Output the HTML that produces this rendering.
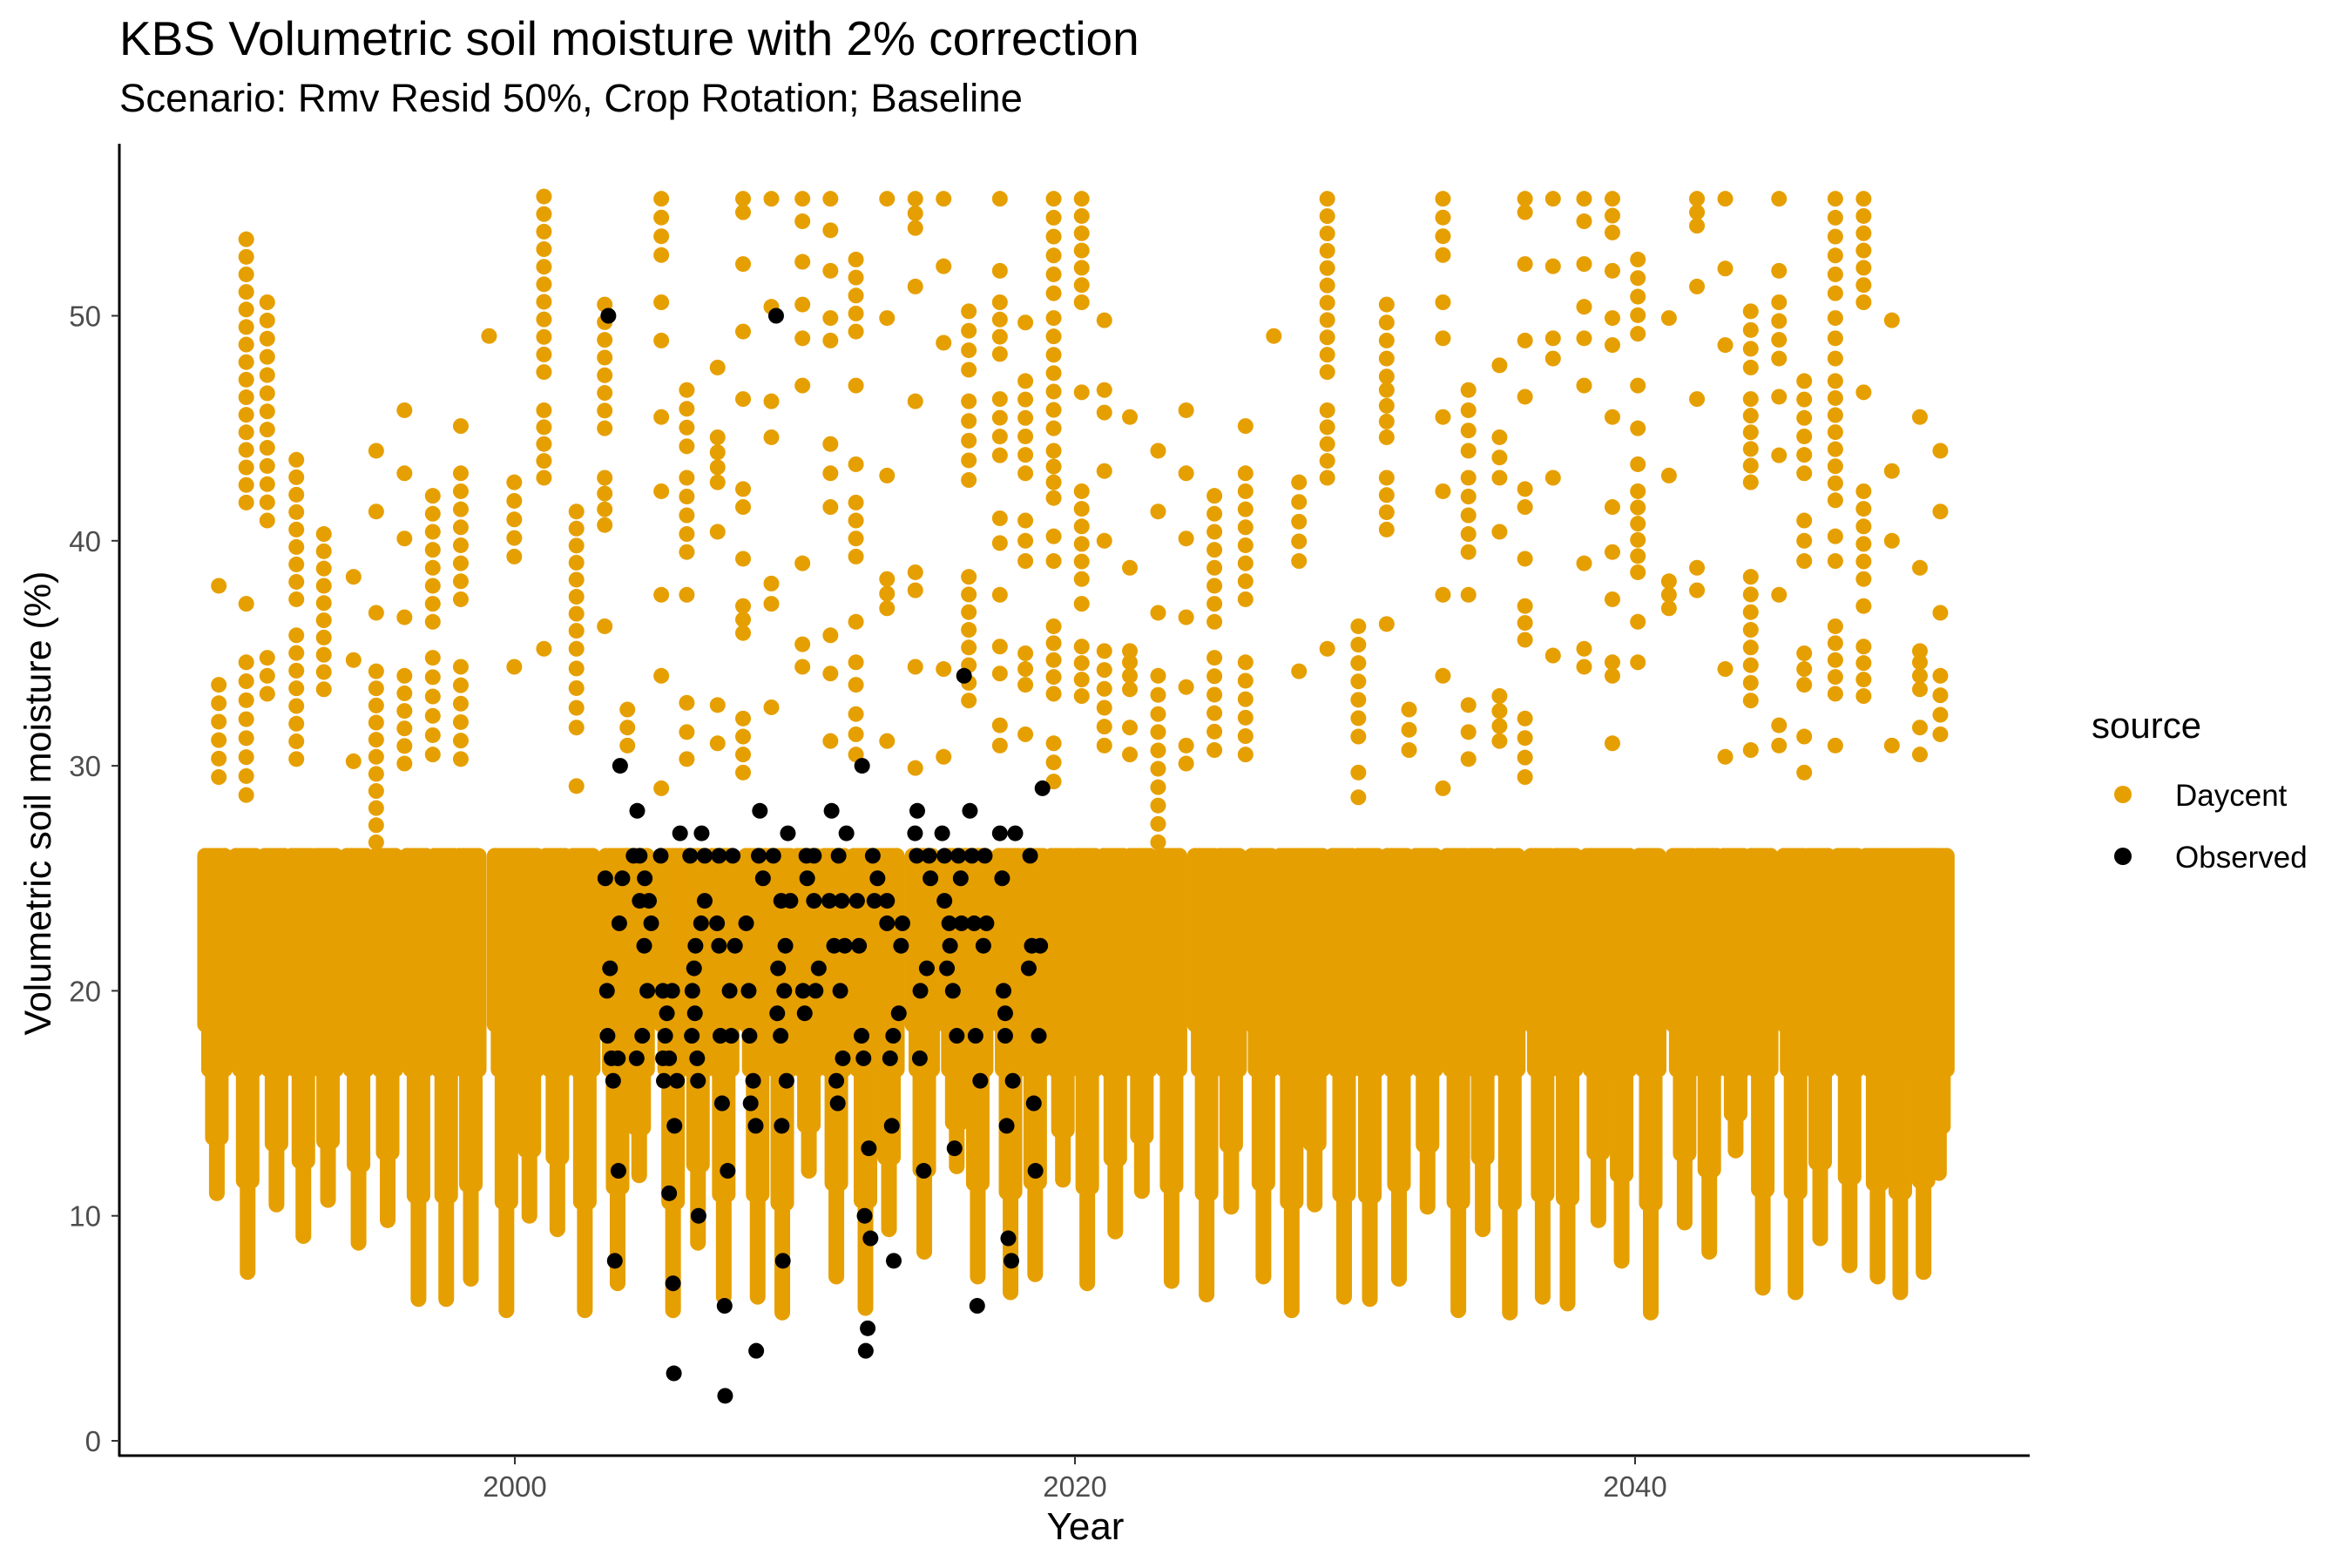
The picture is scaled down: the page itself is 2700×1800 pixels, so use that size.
<!DOCTYPE html>
<html><head><meta charset="utf-8">
<style>
html,body{margin:0;padding:0;background:#fff;}
svg{display:block;font-family:"Liberation Sans",Arial,sans-serif;}
</style></head>
<body>
<svg id="chart" width="2700" height="1800" viewBox="0 0 2700 1800" xmlns="http://www.w3.org/2000/svg">
  <text x="137" y="63" font-size="55" fill="#000">KBS Volumetric soil moisture with 2% correction</text>
  <text x="137" y="128" font-size="45.5" fill="#000">Scenario: Rmv Resid 50%, Crop Rotation; Baseline</text>
  <g id="plot"></g>
  <g id="axes"></g>
  <text x="0" y="0" font-size="43" fill="#000" text-anchor="middle" transform="translate(58,922) rotate(-90)">Volumetric soil moisture (%)</text>
  <text x="1246" y="1767" font-size="44" fill="#000" text-anchor="middle">Year</text>
  <g>
    <text x="2401" y="847" font-size="42" fill="#000">source</text>
    <circle cx="2437" cy="912" r="10" fill="#E69F00"></circle>
    <text x="2497" y="925" font-size="35" fill="#000">Daycent</text>
    <circle cx="2437" cy="983" r="10" fill="#000"></circle>
    <text x="2497" y="996" font-size="35" fill="#000">Observed</text>
  </g>
</svg>
<script>
// ---- data ----
const xTicks = [2000, 2020, 2040];
const yTicks = [0, 10, 20, 30, 40, 50];
const bandCap = 26;
const bandShoulder = 16.5;
const dipYears = [1989.36,1990.46,1991.49,1992.45,1993.33,1994.42,1995.46,1996.56,1997.55,1998.43,1999.7,2000.52,2001.52,2002.5,2003.67,2004.44,2005.65,2006.54,2007.46,2008.67,2009.55,2010.5,2011.48,2012.52,2013.36,2014.62,2015.78,2016.53,2017.7,2018.58,2019.57,2020.44,2021.44,2022.39,2023.45,2024.7,2025.58,2026.73,2027.74,2028.56,2029.61,2030.53,2031.57,2032.59,2033.69,2034.56,2035.53,2036.7,2037.59,2038.69,2039.52,2040.56,2041.77,2042.65,2043.59,2044.56,2045.73,2046.61,2047.66,2048.66,2049.47,2050.3,2050.85];
const dipMins = [11.0,7.5,10.5,9.1,10.7,8.8,9.8,6.3,6.3,7.2,5.8,10.0,9.4,5.8,7.0,11.8,5.8,8.8,6.4,6.4,5.7,12.0,7.3,5.9,9.4,8.4,12.2,7.3,6.6,7.4,11.6,7.0,9.3,11.1,7.1,6.5,10.4,7.3,5.8,10.5,6.4,6.3,7.2,10.4,5.8,9.4,5.7,6.4,6.1,9.8,8.0,5.7,9.7,8.4,12.9,6.8,6.6,9.0,7.8,7.3,6.6,7.5,11.9];
const upYears = [1989.43,1990.41,1991.16,1992.2,1993.18,1994.24,1995.05,1996.06,1997.07,1998.07,1999.08,1999.98,2001.04,2002.2,2003.21,2004.02,2005.23,2006.14,2007.24,2008.15,2009.16,2010.27,2011.27,2012.18,2013.29,2014.3,2015.31,2016.21,2017.32,2018.23,2019.24,2020.24,2021.05,2021.96,2022.97,2023.97,2024.98,2026.09,2027.1,2028.0,2029.01,2030.12,2031.13,2031.93,2033.14,2034.05,2035.16,2036.07,2037.07,2038.18,2039.19,2040.1,2041.21,2042.21,2043.22,2044.13,2045.14,2046.04,2047.15,2048.16,2049.17,2050.17,2050.9];
const upRuns = [
 [[38,38],[29.5,33.6]],
 [[41.7,53.4],[37.2,37.2],[28.7,34.6]],
 [[40.9,50.6],[33.2,34.8]],
 [[37.4,43.6],[30.3,35.8]],
 [[33.4,40.3]],
 [[38.4,38.4],[34.7,34.7],[30.2,30.2]],
 [[44,44],[41.3,41.3],[36.8,36.8],[26.6,34.2]],
 [[45.8,45.8],[43,43],[40.1,40.1],[36.6,36.6],[30.1,34]],
 [[36.4,42],[30.5,34.8]],
 [[45.1,45.1],[37.4,43],[30.3,34.4]],
 [[49.1,49.1]],
 [[39.3,42.6],[34.4,34.4]],
 [[47.5,55.3],[42.8,45.8],[35.2,35.2]],
 [[36,41.3],[31.7,35.2],[29.1,29.1]],
 [[45,50.5],[40.7,42.8],[36.2,36.2]],
 [[30.9,32.5]],
 [[52.7,55.2],[50.6,50.6],[48.9,48.9],[45.5,45.5],[42.2,42.2],[37.6,37.6],[34,34],[29,29]],
 [[44.2,46.7],[40.3,42.8],[39.5,39.5],[37.6,37.6],[32.8,32.8],[30.3,31.5]],
 [[47.7,47.7],[42.6,44.6],[40.4,40.4],[32.7,32.7],[31,31]],
 [[54.6,55.2],[52.3,52.3],[49.3,49.3],[46.3,46.3],[41.5,42.3],[39.2,39.2],[35.9,37.1],[29.7,32.1]],
 [[55.2,55.2],[50.4,50.4],[46.2,46.2],[44.6,44.6],[37.2,38.1],[32.6,32.6]],
 [[54.2,55.2],[52.4,52.4],[50.5,50.5],[49,49],[46.9,46.9],[39,39],[34.4,35.4]],
 [[55.2,55.2],[53.8,53.8],[52,52],[49.9,49.9],[48.9,48.9],[44.3,44.3],[43,43],[41.5,41.5],[35.8,35.8],[34.1,34.1],[31.1,31.1]],
 [[49.3,52.5],[46.9,46.9],[43.4,43.4],[39.3,41.7],[36.4,36.4],[34.6,34.6],[33.6,33.6],[30.5,32.3]],
 [[55.2,55.2],[49.9,49.9],[42.9,42.9],[37,38.3],[31.1,31.1]],
 [[53.9,55.2],[51.3,51.3],[46.2,46.2],[37.8,38.6],[34.4,34.4],[29.9,29.9]],
 [[55.2,55.2],[52.2,52.2],[48.8,48.8],[34.3,34.3],[30.4,30.4]],
 [[47.6,50.2],[42.7,46.2],[32.9,38.4]],
 [[55.2,55.2],[52,52],[48.3,50.6],[43.8,46.3],[41,41],[39.9,39.9],[37.6,37.6],[34.1,35.3],[30.9,31.8]],
 [[49.7,49.7],[43,47.1],[39.1,40.9],[33.6,35],[31.4,31.4]],
 [[51,55.2],[45,49.9],[41.9,44],[39.1,40.2],[33.2,36.2],[29.3,31]],
 [[50.6,55.2],[46.6,46.6],[38.3,42.2],[37.2,37.2],[33.1,35.3]],
 [[49.8,49.8],[45.7,46.7],[43.1,43.1],[40,40],[30.9,35.1]],
 [[45.5,45.5],[38.8,38.8],[35.1,35.1],[33.4,34.6],[30.5,31.7]],
 [[44,44],[41.3,41.3],[36.8,36.8],[32.3,34],[26.6,31.5]],
 [[45.8,45.8],[43,43],[40.1,40.1],[36.6,36.6],[33.5,33.5],[30.1,30.9]],
 [[36.4,42],[30.7,34.8]],
 [[45.1,45.1],[37.4,43],[30.5,34.6]],
 [[49.1,49.1]],
 [[39.1,42.6],[34.2,34.2]],
 [[47.5,55.2],[42.8,45.8],[35.2,35.2]],
 [[31.3,36.2],[28.6,29.7]],
 [[47.3,50.5],[44.6,46.7],[40.5,42.8],[36.3,36.3]],
 [[30.7,32.5]],
 [[52.7,55.2],[50.6,50.6],[49,49],[45.5,45.5],[42.2,42.2],[37.6,37.6],[34,34],[29,29]],
 [[44,46.7],[40.3,42.8],[39.5,39.5],[37.6,37.6],[32.7,32.7],[30.3,31.5]],
 [[47.8,47.8],[42.8,44.6],[40.4,40.4],[31.1,33.1]],
 [[54.6,55.2],[52.3,52.3],[48.9,49.3],[46.4,46.4],[41.5,42.3],[39.2,39.2],[35.6,37.1],[29.5,32.1]],
 [[55.2,55.2],[52.2,52.2],[48.1,49],[42.8,42.8],[34.9,34.9]],
 [[54.2,55.2],[52.3,52.3],[50.4,50.4],[49,49],[46.9,46.9],[39,39],[34.4,35.2]],
 [[53.7,55.2],[52,52],[49.9,49.9],[48.7,48.7],[45.5,45.5],[41.5,41.5],[39.5,39.5],[37.4,37.4],[34,34.6],[31,31]],
 [[49.2,52.5],[46.9,46.9],[45,45],[43.4,43.8],[38.6,42.2],[36.4,36.4],[34.6,34.6]],
 [[49.9,49.9],[42.9,42.9],[37,38.2]],
 [[54,55.2],[51.3,51.3],[46.3,46.3],[37.8,38.8]],
 [[55.2,55.2],[52.1,52.1],[48.7,48.7],[34.3,34.3],[30.4,30.4]],
 [[47.7,50.2],[42.6,46.3],[32.9,38.4],[30.7,30.7]],
 [[55.2,55.2],[52,52],[48.1,50.6],[46.4,46.4],[43.8,43.8],[37.6,37.6],[30.9,31.8]],
 [[43,47.1],[39.1,40.9],[33.6,35],[31.3,31.3],[29.7,29.7]],
 [[51,55.2],[48.1,49.9],[41.8,47.1],[39.1,40.2],[33.2,36.2],[30.9,30.9]],
 [[50.6,55.2],[46.6,46.6],[38.3,42.2],[37.1,37.1],[33.1,35.3]],
 [[49.8,49.8],[43.1,43.1],[40,40],[30.9,30.9]],
 [[45.5,45.5],[38.8,38.8],[35.1,35.1],[33.4,34.6],[30.5,31.7]],
 [[44,44],[41.3,41.3],[36.8,36.8],[31.4,34]]
];
const obsYears = [2003.34,2009.33,2016.04,2003.76,2012.4,2018.84,
 2004.37,2008.75,2011.31,2014.37,2016.25,
 2005.9,2006.67,2009.75,2011.84,2014.29,2015.26,2017.32,2017.87,
 2004.24,2004.46,2005.21,2006.26,2006.78,2007.29,2007.78,2008.71,2009.23,2010.41,2010.68,2011.56,2012.78,2014.35,2014.79,2015.34,2015.84,2016.32,2016.78,2018.4,
 2003.23,2003.84,2004.64,2008.86,2010.44,2012.95,2014.84,2015.92,2017.4,
 2004.46,2004.79,2006.78,2009.51,2009.84,2010.68,2011.23,2011.67,2012.22,2012.84,2013.29,2015.34,
 2003.73,2004.87,2006.65,2007.22,2008.26,2013.29,2013.84,2015.51,2015.95,2016.4,2016.84,
 2004.62,2006.45,2007.29,2007.86,2009.66,2011.4,2011.78,2012.29,2013.79,2015.54,2016.73,2018.46,2018.76,
 2003.4,2006.4,2009.4,2010.85,2014.71,2015.43,2018.35,
 2003.29,2004.73,2005.29,2005.62,2006.34,2007.67,2008.35,2009.62,2010.29,2010.74,2011.62,2014.48,2015.64,2017.45,
 2005.43,2006.43,2009.37,2010.35,2013.71,2017.51,
 2003.31,2004.55,2005.37,2006.32,2007.34,2007.73,2008.38,2009.49,2012.38,2013.51,2015.78,2016.45,2017.51,2018.71,
 2003.45,2003.68,2004.35,2005.29,2005.51,2006.51,2011.71,2012.45,2013.4,2014.46,
 2003.51,2005.32,2005.79,2006.54,2008.51,2009.7,2011.48,2016.62,2017.78,
 2007.4,2008.42,2011.53,2018.53,
 2005.7,2008.6,2009.53,2013.46,2017.56,
 2012.64,2015.7,
 2003.7,2007.6,2014.6,2018.59,
 2005.51,
 2006.56,2012.49,
 2012.7,2017.62,
 2003.57,2009.57,2013.53,2017.73,
 2005.65,
 2007.49,2016.51,
 2012.6,
 2008.62,2012.53,
 2005.68,
 2007.51];
const obsValues = [50,50,34,30,30,29,
 28,28,28,28,28,
 27,27,27,27,27,27,27,27,
 26,26,26,26,26,26,26,26,26,26,26,26,26,26,26,26,26,26,26,26,
 25,25,25,25,25,25,25,25,25,
 24,24,24,24,24,24,24,24,24,24,24,24,
 23,23,23,23,23,23,23,23,23,23,23,
 22,22,22,22,22,22,22,22,22,22,22,22,22,
 21,21,21,21,21,21,21,
 20,20,20,20,20,20,20,20,20,20,20,20,20,20,
 19,19,19,19,19,19,
 18,18,18,18,18,18,18,18,18,18,18,18,18,18,
 17,17,17,17,17,17,17,17,17,17,
 16,16,16,16,16,16,16,16,16,
 15,15,15,15,
 14,14,14,14,14,
 13,13,
 12,12,12,12,
 11,
 10,10,
 9,9,
 8,8,8,8,
 7,
 6,6,
 5,
 4,4,
 3,
 2];

// ---- scales ----
const NS = 'http://www.w3.org/2000/svg';
function xs(year){ return 591 + (year - 2000) * 32.15; }
function ys(v){ return 1654 - v * 25.83; }
const ORANGE = '#E69F00';
const plot = document.getElementById('plot');
const axes = document.getElementById('axes');

function vline(x, v1, v2, color, name){
  const l = document.createElementNS(NS, 'line');
  l.setAttribute('x1', x); l.setAttribute('x2', x);
  l.setAttribute('y1', ys(v1)); l.setAttribute('y2', ys(v2));
  l.setAttribute('stroke', color); l.setAttribute('stroke-width', 18);
  l.setAttribute('stroke-linecap', 'round');
  
  
  plot.appendChild(l);
}
function dot(x, v, color, name){
  const c = document.createElementNS(NS, 'circle');
  c.setAttribute('cx', x);
  c.setAttribute('cy', ys(v));
  c.setAttribute('r', 9);
  c.setAttribute('fill', color);
  
  
  plot.appendChild(c);
}

// Daycent dense band + dips
dipYears.forEach((yr, i) => {
  const m = dipMins[i];
  const offs = [-0.42, -0.28, -0.14, 0, 0.14, 0.28];
  offs.forEach(o => {
    const a = Math.abs(o);
    const depth = a < 0.1 ? m : (a < 0.2 ? Math.min(bandShoulder, m + (bandShoulder - m) * 0.45) : (a < 0.35 ? bandShoulder : bandShoulder + 2));
    vline(xs(yr + o), depth, bandCap, ORANGE, 'daycent-point-column');
  });
});
// Daycent upper scattered points (beaded)
upYears.forEach((yr, i) => {
  upRuns[i].forEach(r => {
    const n = Math.max(1, Math.round((r[1] - r[0]) / 0.8) + 1);
    for (let k = 0; k < n; k++) {
      const v = n === 1 ? r[0] : r[0] + (r[1] - r[0]) * k / (n - 1);
      dot(xs(yr), v, ORANGE, 'daycent-upper-point');
    }
  });
});
// Observed
obsYears.forEach((yr, i) => {
  dot(xs(yr), obsValues[i], '#000', 'observed-point');
});

// axes
function mk(tag, attrs){
  const e = document.createElementNS(NS, tag);
  for (const k in attrs) e.setAttribute(k, attrs[k]);
  axes.appendChild(e);
  return e;
}
const yAxis = mk('line', {x1:137, x2:137, y1:165, y2:1672, stroke:'#000', 'stroke-width':3});


const xAxis = mk('line', {x1:136, x2:2330, y1:1671, y2:1671, stroke:'#000', 'stroke-width':3});


yTicks.forEach(t => {
  const tk = mk('line', {x1:128, x2:137, y1:ys(t), y2:ys(t), stroke:'#333', 'stroke-width':2});
  
  
  const lb = mk('text', {x:116, y:ys(t) + 12, 'font-size':33, fill:'#4d4d4d', 'text-anchor':'end'});
  lb.textContent = t;
  
  
});
xTicks.forEach(t => {
  const tk = mk('line', {x1:xs(t), x2:xs(t), y1:1671, y2:1681, stroke:'#333', 'stroke-width':2});
  
  
  const lb = mk('text', {x:xs(t), y:1718, 'font-size':33, fill:'#4d4d4d', 'text-anchor':'middle'});
  lb.textContent = t;
  
  
});
</script>
</body></html>
